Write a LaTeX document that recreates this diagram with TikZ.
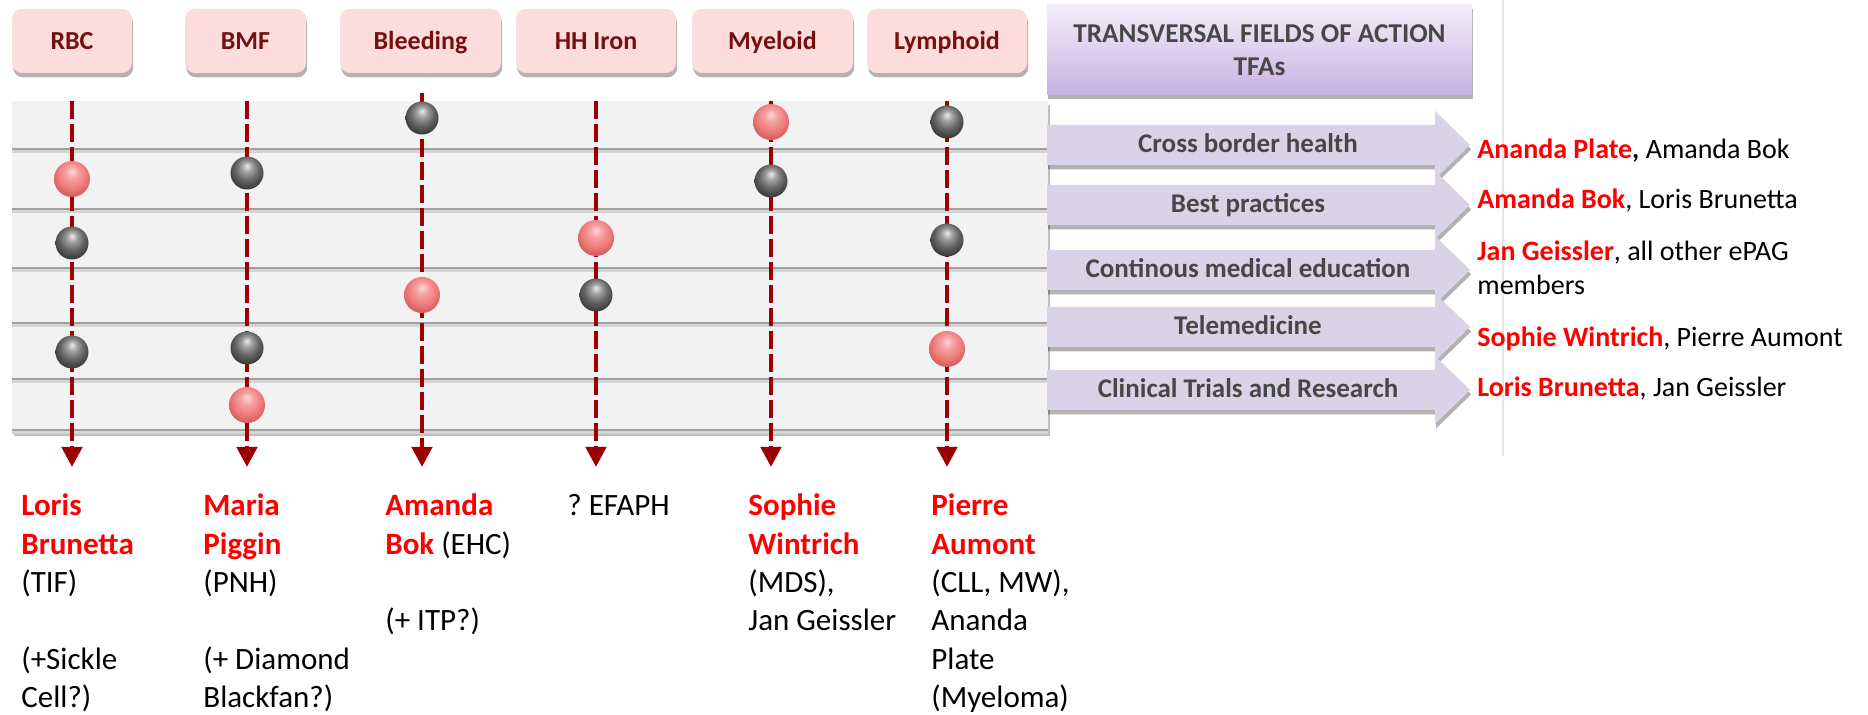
\documentclass[tikz,border=0pt]{standalone}
\usepackage{fontspec}
\setmainfont{Carlito}
\usetikzlibrary{shadows,arrows.meta}
\definecolor{hdrfill}{HTML}{FDDCDC}
\definecolor{hdrtext}{HTML}{761010}
\definecolor{panelfill}{HTML}{F2F2F2}
\definecolor{rowline}{HTML}{A0A0A0}
\definecolor{rowshade}{HTML}{D4D4D4}
\definecolor{dashred}{HTML}{9C0000}
\definecolor{tfatop}{HTML}{F3EEF9}
\definecolor{tfabot}{HTML}{C8B2E2}
\definecolor{tfaarrow}{HTML}{DAD2E6}
\definecolor{tfatext}{HTML}{474747}
\definecolor{namered}{HTML}{FF0000}
\definecolor{sepline}{HTML}{E6E6E6}
\definecolor{rsA}{HTML}{FBD6D6}
\definecolor{rsB}{HTML}{F6A0A0}
\definecolor{rsC}{HTML}{EF7A7A}
\definecolor{rsD}{HTML}{D25C5C}
\definecolor{rsE}{HTML}{A84040}
\definecolor{gsA}{HTML}{EDEDED}
\definecolor{gsB}{HTML}{A0A0A0}
\definecolor{gsC}{HTML}{656565}
\definecolor{gsD}{HTML}{3C3C3C}
\definecolor{gsE}{HTML}{222222}
\pgfdeclareradialshading{redsphere}{\pgfqpoint{0bp}{11bp}}{color(0bp)=(rsA); color(9bp)=(rsB); color(20bp)=(rsC); color(29bp)=(rsD); color(36bp)=(rsE); color(50bp)=(rsE)}
\pgfdeclareradialshading{graysphere}{\pgfqpoint{0bp}{11bp}}{color(0bp)=(gsA); color(8bp)=(gsB); color(18bp)=(gsC); color(28bp)=(gsD); color(36bp)=(gsE); color(50bp)=(gsE)}
\newcommand\redname[1]{\textcolor{namered}{\bfseries #1}}
\tikzset{
  hdr/.style={rectangle, rounded corners=5pt, fill=hdrfill, text=hdrtext,
    font=\fontsize{13}{15}\selectfont\bfseries, minimum height=32pt,
    text height=8.4pt, text depth=0pt, inner sep=0pt,
    drop shadow={shadow xshift=0.6pt, shadow yshift=-2.2pt, opacity=0.3, fill=black}},
  tfabox/.style={rectangle, top color=tfatop, bottom color=tfabot, text=tfatext,
    font=\fontsize{13.6}{16.5}\selectfont\bfseries, align=center,
    minimum width=212.5pt, minimum height=45pt, inner sep=0pt,
    drop shadow={shadow xshift=0.6pt, shadow yshift=-2.2pt, opacity=0.3, fill=black}},
  panel/.style={fill=panelfill,
    drop shadow={shadow xshift=0.8pt, shadow yshift=-2pt, opacity=0.25, fill=black}},
  rowln/.style={draw=rowline, line width=1pt},
  rowsh/.style={draw=rowshade, line width=1.3pt},
  colline/.style={draw=dashred, line width=2.25pt, dash pattern=on 9pt off 2.5pt,
    -{Triangle[length=10pt,width=10pt]}},
  ball/.style={circle, inner sep=0pt},
  redball/.style={ball, shading=redsphere, minimum size=18pt},
  grayball/.style={ball, shading=graysphere, minimum size=16.5pt},
  tfarrow/.style={fill=tfaarrow,
    drop shadow={shadow xshift=0.6pt, shadow yshift=-2.2pt, opacity=0.3, fill=black}},
  tfatxt/.style={anchor=base, inner sep=0pt, text=tfatext,
    font=\fontsize{13.5}{16}\selectfont\bfseries},
  btxt/.style={anchor=base west, inner sep=0pt, font=\fontsize{15.5}{19}\selectfont},
  rtxt/.style={anchor=base west, inner sep=0pt, font=\fontsize{14}{17}\selectfont},
}
\begin{document}
\begin{tikzpicture}[x=0.5pt, y=-0.5pt]
\useasboundingbox (0,0) rectangle (1868,715);
\fill[white] (0,0) rectangle (1868,715);
% separator line
\draw[sepline, line width=0.75pt] (1503,0) -- (1503,456);
% header boxes
\node[hdr, minimum width=60pt]   (rbc)   at (72,41)    {RBC};
\node[hdr, minimum width=60.5pt] (bmf)   at (245.5,41) {BMF};
\node[hdr, minimum width=80.5pt] (bleed) at (420.5,41) {Bleeding};
\node[hdr, minimum width=80pt]   (hh)    at (596,41)   {HH Iron};
\node[hdr, minimum width=80.5pt] (mye)   at (772.5,41) {Myeloid};
\node[hdr, minimum width=80pt]   (lym)   at (947,41)   {Lymphoid};
\node[tfabox] (tfa) at (1259.5,50) {TRANSVERSAL FIELDS OF ACTION\\TFAs};
% panel
\path[panel] (12,101) rectangle (1048,432);
\foreach \yy in {149,209,268,323,379,430} {
  \draw[rowsh] (12,\yy+2.5) -- (1048,\yy+2.5);
  \draw[rowln] (12,\yy) -- (1048,\yy);
}
% TFA arrows
\foreach \cc in {145,205,270,327,390} {
  \path[tfarrow] (1047,\cc-20) -- (1435,\cc-20) -- (1435,\cc-34) -- (1470,\cc)
     -- (1435,\cc+34) -- (1435,\cc+20) -- (1047,\cc+20) -- cycle;
}
\node[tfatxt] (t1) at (1248,153) {Cross border health};
\node[tfatxt] (t2) at (1248,213) {Best practices};
\node[tfatxt] (t3) at (1248,278) {Continous medical education};
\node[tfatxt] (t4) at (1248,335) {Telemedicine};
\node[tfatxt] (t5) at (1248,398) {Clinical Trials and Research};
% column lines
\coordinate (c1t) at (72,101);  \coordinate (c1b) at (72,467);
\coordinate (c2t) at (247,101); \coordinate (c2b) at (247,467);
\coordinate (c3t) at (422,93);  \coordinate (c3b) at (422,467);
\coordinate (c4t) at (596,101); \coordinate (c4b) at (596,467);
\coordinate (c5t) at (771,101); \coordinate (c5b) at (771,467);
\coordinate (c6t) at (947,101); \coordinate (c6b) at (947,467);
\draw[colline] (c1t) -- (c1b);
\draw[colline] (c2t) -- (c2b);
\draw[colline] (c3t) -- (c3b);
\draw[colline] (c4t) -- (c4b);
\draw[colline] (c5t) -- (c5b);
\draw[colline] (c6t) -- (c6b);
% balls
\node[redball]  (b11) at (72,179) {};
\node[grayball] (b12) at (72,243) {};
\node[grayball] (b13) at (72,352) {};
\node[grayball] (b21) at (247,173) {};
\node[grayball] (b22) at (247,348) {};
\node[redball]  (b23) at (247,405) {};
\node[grayball] (b31) at (422,118) {};
\node[redball]  (b32) at (422,295) {};
\node[redball]  (b41) at (596,238) {};
\node[grayball] (b42) at (596,295) {};
\node[redball]  (b51) at (771,122) {};
\node[grayball] (b52) at (771,181) {};
\node[grayball] (b61) at (947,122) {};
\node[grayball] (b62) at (947,240) {};
\node[redball]  (b63) at (947,349) {};
% bottom texts
\node[btxt] (l11) at (21,516)   {\redname{Loris}};
\node[btxt] (l12) at (21,554.3) {\redname{Brunetta}};
\node[btxt] (l13) at (21,592.6) {(TIF)};
\node[btxt] (l15) at (21,669.2) {(+Sickle};
\node[btxt] (l16) at (21,707.5) {Cell?)};
\node[btxt] (l21) at (203,516)   {\redname{Maria}};
\node[btxt] (l22) at (203,554.3) {\redname{Piggin}};
\node[btxt] (l23) at (203,592.6) {(PNH)};
\node[btxt] (l25) at (203,669.2) {(+ Diamond};
\node[btxt] (l26) at (203,707.5) {Blackfan?)};
\node[btxt] (l31) at (385,516)   {\redname{Amanda}};
\node[btxt] (l32) at (385,554.3) {\redname{Bok} (EHC)};
\node[btxt] (l34) at (385,630.9) {(+ ITP?)};
\node[btxt] (l41) at (567,516)   {?~EFAPH};
\node[btxt] (l51) at (748,516)   {\redname{Sophie}};
\node[btxt] (l52) at (748,554.3) {\redname{Wintrich}};
\node[btxt] (l53) at (748,592.6) {(MDS),};
\node[btxt] (l54) at (748,630.9) {Jan Geissler};
\node[btxt] (l61) at (931,516)   {\redname{Pierre}};
\node[btxt] (l62) at (931,554.3) {\redname{Aumont}};
\node[btxt] (l63) at (931,592.6) {(CLL, MW),};
\node[btxt] (l64) at (931,630.9) {Ananda};
\node[btxt] (l65) at (931,669.2) {Plate};
\node[btxt] (l66) at (931,707.5) {(Myeloma)};
% right texts
\node[rtxt] (r1)  at (1477,159) {\redname{Ananda Plate}\textbf{,} Amanda Bok};
\node[rtxt] (r2)  at (1477,209) {\redname{Amanda Bok}, Loris Brunetta};
\node[rtxt] (r3)  at (1477,261) {\redname{Jan Geissler}, all other ePAG};
\node[rtxt] (r3b) at (1477,295) {members};
\node[rtxt] (r4)  at (1477,347) {\redname{Sophie Wintrich}, Pierre Aumont};
\node[rtxt] (r5)  at (1477,397) {\redname{Loris Brunetta}, Jan Geissler};
\end{tikzpicture}
\end{document}
